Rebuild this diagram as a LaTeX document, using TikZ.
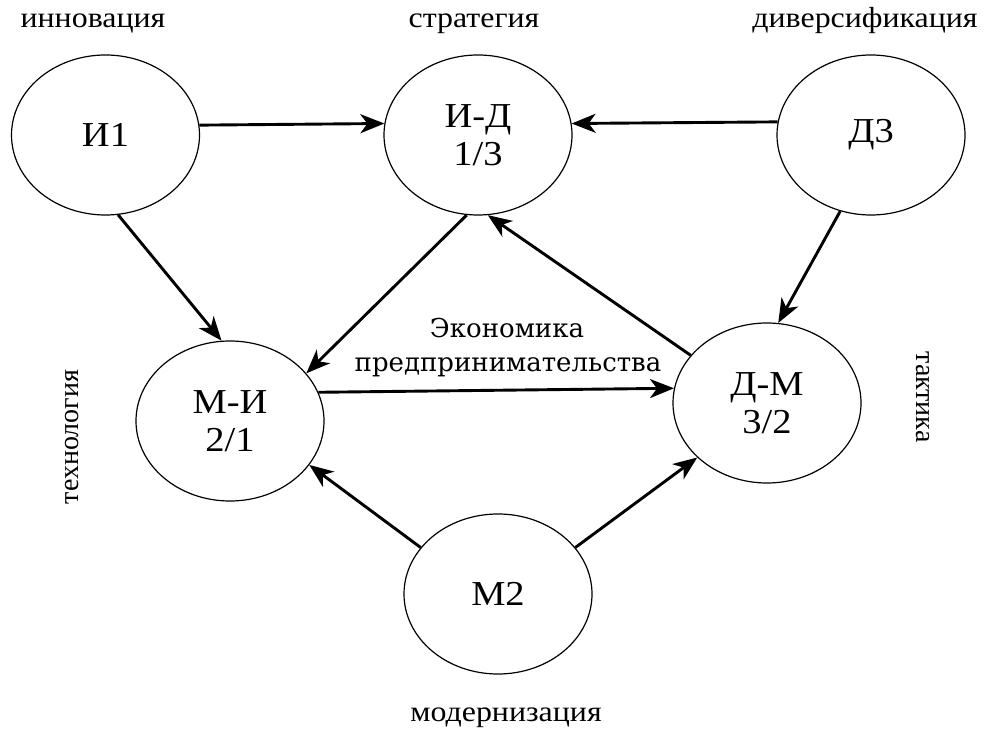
\documentclass[tikz,border=0pt]{standalone}
\usepackage{fontspec}
\setmainfont{Liberation Serif}
\newfontfamily\widefont[FakeStretch=1.1]{Liberation Serif}
\newfontfamily\midfont{DejaVu Serif}
\usetikzlibrary{shapes.geometric,arrows.meta}
\tikzset{
  state/.style={ellipse, draw, line width=1.2pt, minimum width=188pt, minimum height=160pt, inner sep=0pt,
    font=\widefont\fontsize{35}{38}\selectfont, align=center},
  conn/.style={line width=2.9pt, -{Stealth[length=24pt,width=19pt,inset=7pt]}},
  lbl/.style={font=\widefont\fontsize{29}{30}\selectfont, inner sep=0pt, anchor=base},
  vlbl/.style={font=\fontsize{28}{30}\selectfont, inner sep=0pt, anchor=center},
  midlbl/.style={font=\midfont\fontsize{26}{28}\selectfont, inner sep=0pt, anchor=base}
}
\begin{document}
\begin{tikzpicture}[x=1pt,y=1pt]
\useasboundingbox (0,0) rectangle (987,729);
\node[state] (I1) at (105.5,594) {И1};
\node[state] (ID) at (478,594) {И-Д\\1/3};
\node[state] (D3) at (871,594) {Д3};
\node[state] (MI) at (230,308) {М-И\\2/1};
\node[state] (DM) at (767,326) {Д-М\\3/2};
\node[state] (M2) at (498,135) {М2};

\node[lbl] (l1) at (93,701) {инновация};
\node[lbl] (l2) at (474,701) {стратегия};
\node[lbl] (l3) at (865,701) {диверсификация};
\node[lbl] (l4) at (506,8) {модернизация};
\node[vlbl, rotate=90] (l5) at (72,292) {технология};
\node[vlbl, rotate=-90] (l6) at (923,332) {тактика};
\node[midlbl] (m1) at (507,391) {Экономика};
\node[midlbl] (m2) at (508,358) {предпринимательства};

\draw[conn] (I1.6.7) -- (ID.173.3);
\draw[conn] (D3.172.7) -- (ID.7.3);
\draw[conn] (I1.-81.6) -- (MI.96.6);
\draw[conn] (ID.262.2) -- (MI.32);
\draw[conn] (DM.148) -- (ID.-83);
\draw[conn] (D3.248) -- (DM.82.6);
\draw[conn] (MI.18.6) -- (DM.171.5);
\draw[conn] (M2.149) -- (MI.-29);
\draw[conn] (M2.31.3) -- (DM.218.6);
\end{tikzpicture}
\end{document}
